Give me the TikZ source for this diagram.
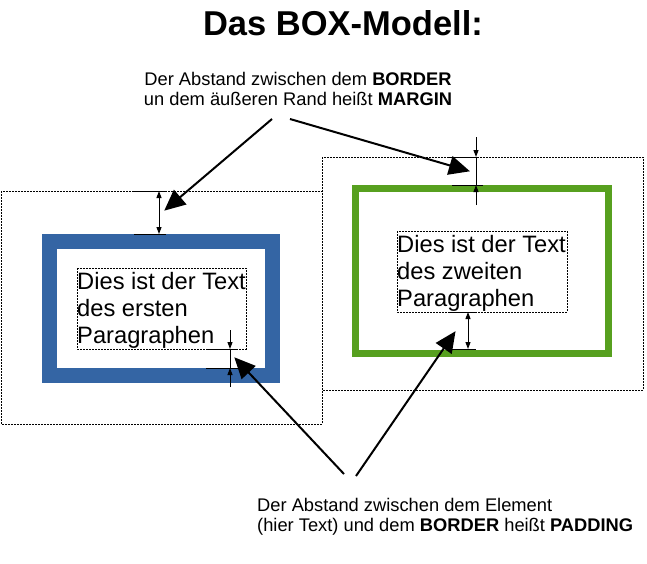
\documentclass[tikz,border=0pt]{standalone}
\usepackage{fontspec}
\setmainfont{Liberation Sans}
\usetikzlibrary{arrows.meta}
\definecolor{boxblue}{HTML}{3465A4}
\definecolor{boxgreen}{HTML}{57A01F}
\tikzset{
  marginbox/.style={draw=black, line width=0.7pt, dash pattern=on 1.6pt off 1.4pt},
  textbox/.style={draw=black, line width=0.7pt, dash pattern=on 1.6pt off 1.4pt},
  boxtxt/.style={inner sep=0pt, anchor=base west, font=\fontsize{23.7}{27}\selectfont},
  notetxt/.style={inner sep=0pt, font=\fontsize{18.3}{20}\selectfont},
  tick/.style={draw=black, line width=1pt},
  dimarrow/.style={draw=black, line width=1pt, -{Triangle[length=7pt,width=5pt]}},
  dimboth/.style={draw=black, line width=1pt, {Triangle[length=7pt,width=5pt]}-{Triangle[length=7pt,width=5pt]}},
  bigarrow/.style={draw=black, line width=2pt, -{Triangle[length=21pt,width=19pt]}, shorten >=-1pt}
}
\begin{document}
\begin{tikzpicture}[x=1pt,y=-1pt]
\useasboundingbox (0,0) rectangle (647,563);
\fill[white] (0,0) rectangle (647,563);

% title
\node[inner sep=0pt, anchor=base, font=\fontsize{34.5}{38}\selectfont\bfseries] (title) at (343,35) {Das BOX-Modell:};

% margin boxes
\draw[marginbox] (1,191) rectangle (322,424);
\draw[marginbox] (322,157) rectangle (643,390);

% borders
\draw[boxblue, line width=15pt] (49.5,241.5) rectangle (272.5,375.5);
\draw[boxgreen, line width=7pt] (355.5,188.5) rectangle (608.5,353);

% text boxes
\draw[textbox] (77,268) rectangle (246,349);
\node[boxtxt] (l1) at (77,289) {Dies ist der Text};
\node[boxtxt] (l2) at (77,316) {des ersten};
\node[boxtxt] (l3) at (77,343) {Paragraphen};

\draw[textbox] (397,231) rectangle (567,312);
\node[boxtxt] (r1) at (397,252) {Dies ist der Text};
\node[boxtxt] (r2) at (397,279) {des zweiten};
\node[boxtxt] (r3) at (397,306) {Paragraphen};

% dimension: left margin
\draw[tick] (134,191) -- (166,191);
\draw[tick] (134,234) -- (166,234);
\draw[dimboth] (159,191) -- (159,234);

% dimension: left padding
\draw[tick] (206,349) -- (238,349);
\draw[tick] (206,368) -- (238,368);
\draw[tick] (230,349) -- (230,368);
\draw[dimarrow] (230,330) -- (230,349);
\draw[dimarrow] (230,387) -- (230,368);

% dimension: right margin
\draw[tick] (448,157) -- (477,157);
\draw[tick] (452,185) -- (483,185);
\draw[tick] (476,157) -- (476,185);
\draw[dimarrow] (476,137) -- (476,157);
\draw[dimarrow] (476,205) -- (476,185);

% dimension: right padding
\draw[tick] (450,312) -- (477,312);
\draw[tick] (449,349) -- (476,349);
\draw[dimboth] (468,312) -- (468,349);

% annotations
\node[notetxt, anchor=base] (m1) at (298,85) {Der Abstand zwischen dem \textbf{BORDER}};
\node[notetxt, anchor=base] (m2) at (298,105) {un dem äußeren Rand heißt \textbf{MARGIN}};

\node[notetxt, anchor=base west] (p1) at (257,511) {Der Abstand zwischen dem Element};
\node[notetxt, anchor=base west] (p2) at (257,531) {(hier Text) und dem \textbf{BORDER} heißt \textbf{PADDING}};

% big arrows
\coordinate (a1s) at (272,119);
\coordinate (a1e) at (165,210);
\coordinate (a2s) at (290,119);
\coordinate (a2e) at (469,171);
\coordinate (a3s) at (356,476);
\coordinate (a3e) at (455,332);
\coordinate (a4s) at (344,474);
\coordinate (a4e) at (235,358);
\draw[bigarrow] (a1s) -- (a1e);
\draw[bigarrow] (a2s) -- (a2e);
\draw[bigarrow] (a3s) -- (a3e);
\draw[bigarrow] (a4s) -- (a4e);
\end{tikzpicture}
\end{document}
